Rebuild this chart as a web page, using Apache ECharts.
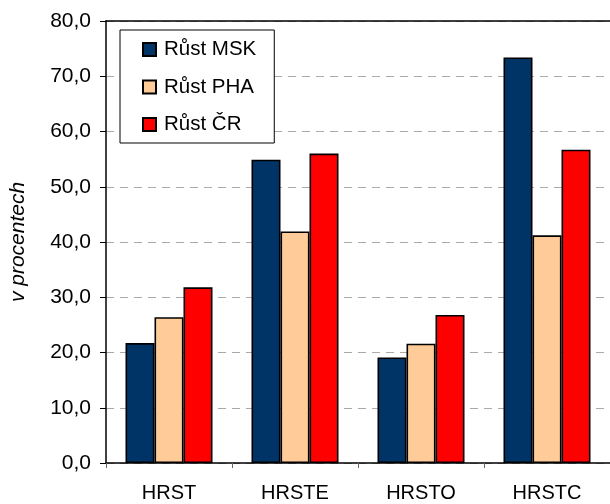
<!DOCTYPE html>
<html>
<head>
<meta charset="utf-8">
<script src="https://cdn.jsdelivr.net/npm/echarts@6/dist/echarts.min.js"></script>
<style>
html,body{margin:0;padding:0;background:#fff;}
#c{width:610px;height:504px;}
</style>
</head>
<body>
<div id="c"></div>
<script>
const categories = ['HRST', 'HRSTE', 'HRSTO', 'HRSTC'];
const seriesNames = ['Růst MSK', 'Růst PHA', 'Růst ČR'];
const rustMSK = [21.7, 54.9, 19.1, 73.4];
const rustPHA = [26.4, 41.9, 21.6, 41.2];
const rustCR = [31.8, 56.0, 26.8, 56.7];
const colors = ['#003366', '#FFCC99', '#FF0000'];
const yMin = 0, yMax = 80, yStep = 10;
const yAxisTitle = 'v procentech';

const FONT = '"Liberation Sans", Arial, sans-serif';
const chart = echarts.init(document.getElementById('c'), null, {renderer: 'canvas'});

const mk = (name, data, color) => ({
  name: name,
  type: 'bar',
  data: data,
  barWidth: 29,
  barGap: '0%',
  itemStyle: {color: color, borderColor: '#000', borderWidth: 1.6},
  emphasis: {disabled: true}
});

chart.setOption({
  animation: false,
  backgroundColor: '#fff',
  grid: {left: 103, top: 21, width: 509, height: 442},
  legend: {
    orient: 'vertical',
    left: 120, top: 30,
    backgroundColor: '#fff',
    borderColor: '#000',
    borderWidth: 1,
    borderRadius: 0,
    padding: [9, 18, 8, 22],
    itemWidth: 13, itemHeight: 13,
    itemGap: 16.5,
    icon: 'rect',
    textStyle: {fontFamily: FONT, fontSize: 20.5, color: '#000', lineHeight: 20, padding: [0, 0, 0, 3]},
    data: seriesNames
  },
  xAxis: [{
    type: 'category',
    data: categories,
    axisLine: {lineStyle: {color: '#000', width: 1.5}},
    axisTick: {show: true, length: 5, lineStyle: {color: '#666'}},
    axisLabel: {fontFamily: FONT, fontSize: 20, color: '#000', margin: 20},
    splitLine: {show: false}
  }, {
    type: 'category',
    position: 'top',
    data: categories,
    axisLine: {lineStyle: {color: '#000', width: 1.5}},
    axisTick: {show: false},
    axisLabel: {show: false}
  }],
  yAxis: {
    type: 'value',
    min: yMin, max: yMax, interval: yStep,
    name: yAxisTitle,
    nameLocation: 'middle',
    nameGap: 77,
    nameRotate: 90,
    nameTextStyle: {fontFamily: FONT, fontSize: 21, fontStyle: 'italic', color: '#000'},
    axisLine: {show: true, lineStyle: {color: '#000', width: 1.5}},
    axisTick: {show: true, length: 6, lineStyle: {color: '#000'}},
    axisLabel: {
      fontFamily: FONT, fontSize: 21, color: '#000', margin: 15,
      formatter: v => v.toFixed(1).replace('.', ',')
    },
    splitLine: {show: true, lineStyle: {color: '#aaa', type: [8, 6], width: 1.2}}
  },
  series: [
    mk(seriesNames[0], rustMSK, colors[0]),
    mk(seriesNames[1], rustPHA, colors[1]),
    mk(seriesNames[2], rustCR, colors[2])
  ]
});
</script>
</body>
</html>
